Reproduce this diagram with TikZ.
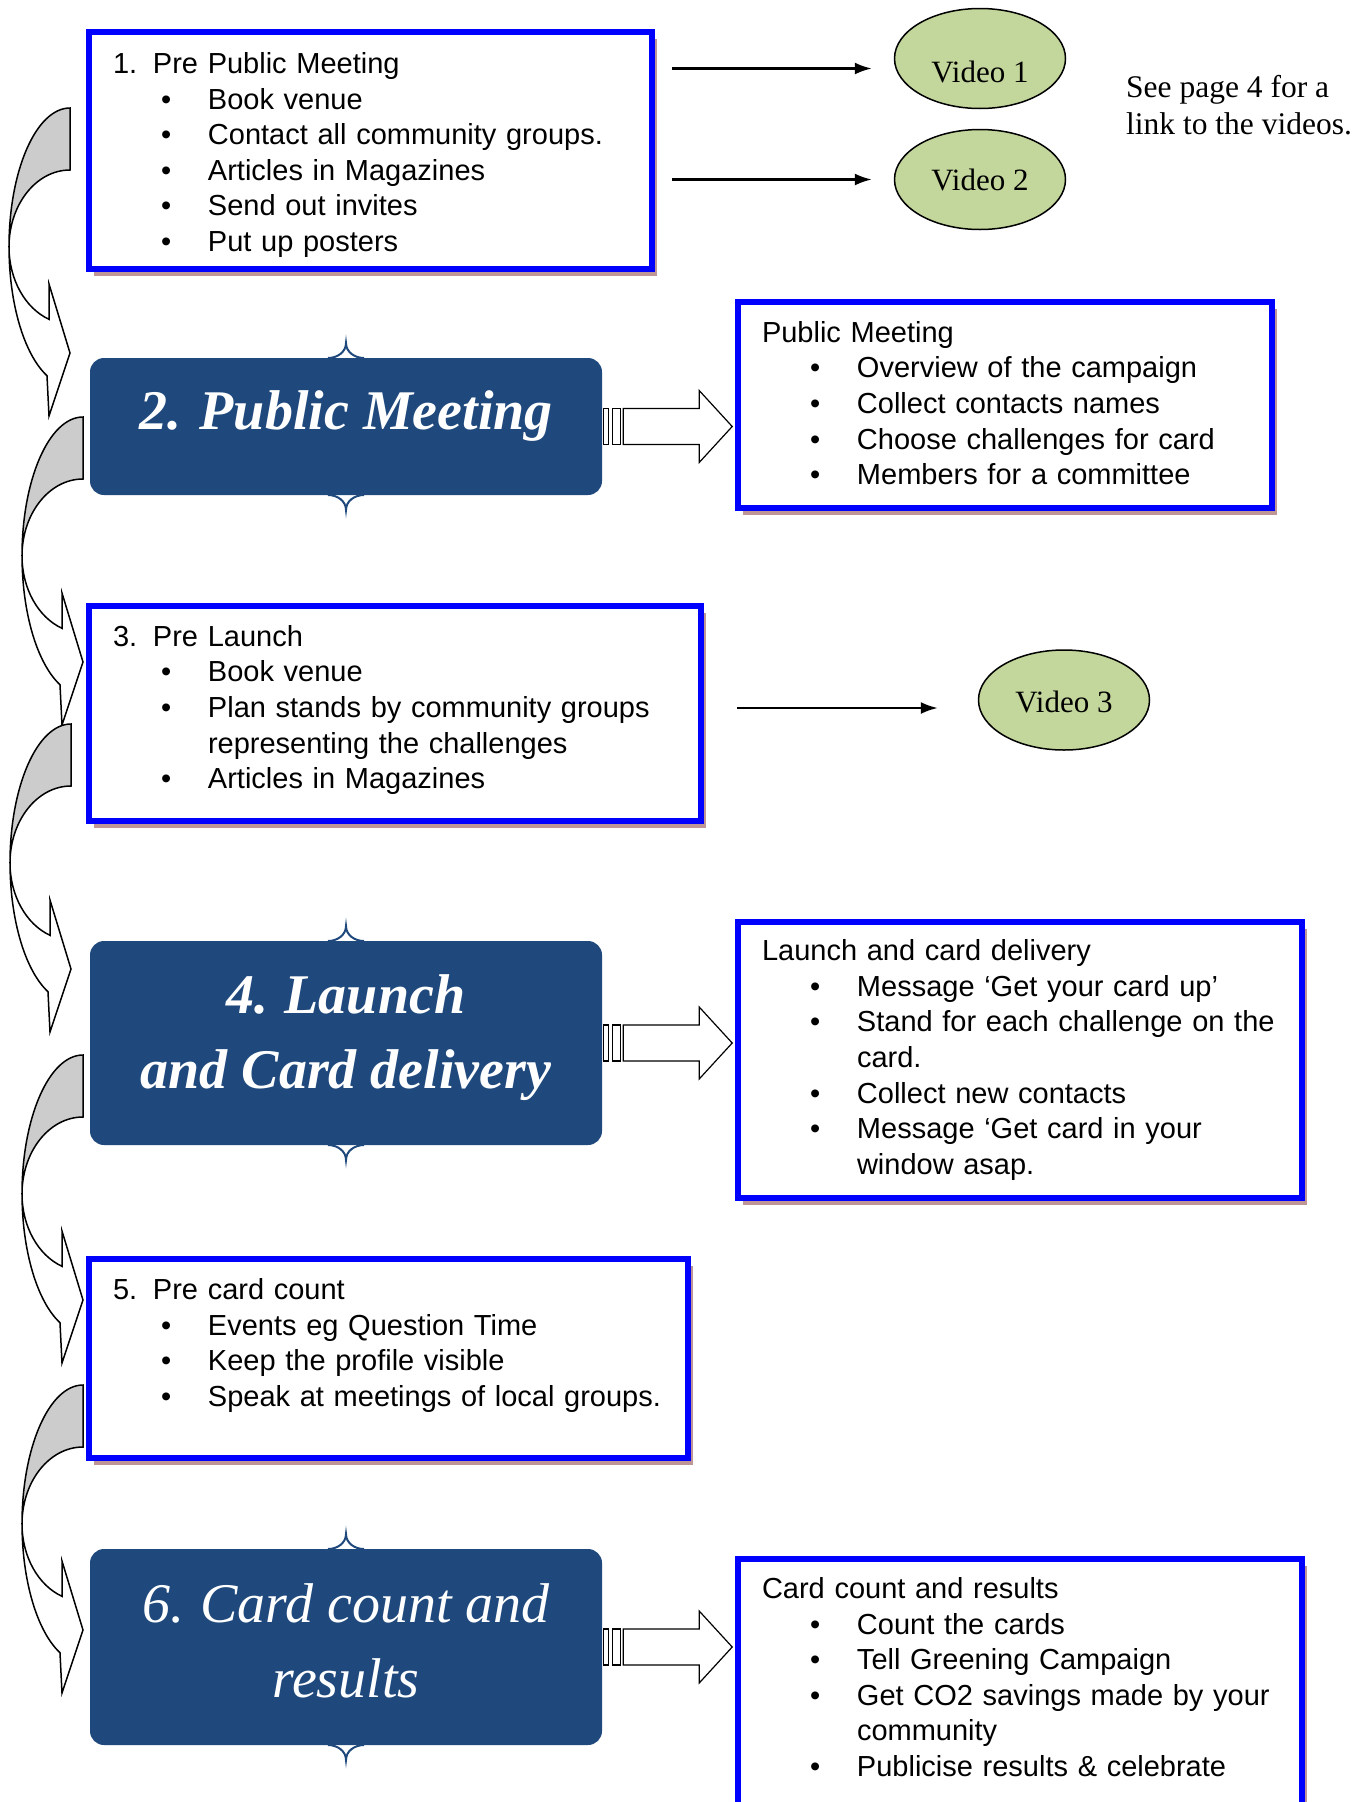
\documentclass[tikz,border=0pt]{standalone}
\usepackage{fontspec}
\setmainfont{Liberation Sans}
\newfontfamily\serifvid{Liberation Serif}
\usepackage{tikz}
\usetikzlibrary{shapes,arrows,arrows.meta,positioning,calc,shadows}
\definecolor{boxblue}{RGB}{0,0,255}
\definecolor{titleblue}{RGB}{31,73,125}
\definecolor{videogreen}{RGB}{195,214,155}
\definecolor{shadowpink}{RGB}{190,150,150}
\definecolor{backgray}{RGB}{204,204,204}
\newcommand{\stagenum}[2]{\makebox[40pt][l]{#1}#2}
\newcommand{\itm}[1]{\mbox{\hspace*{48pt}\makebox[47pt][l]{\textbullet}#1}}
\newcommand{\contline}[1]{\mbox{\hspace*{95pt}#1}}
\newcommand{\lift}[1]{\rule[-#1]{0pt}{#1}}
\newcommand{\sink}[1]{\rule{0pt}{#1}}
\tikzset{
stagebox/.style = {draw=boxblue, line width=6pt, fill=white, rectangle, align=left, inner xsep=24pt, inner ysep=0pt, font=\fontsize{29}{35.6}\selectfont, drop shadow={shadow xshift=5pt, shadow yshift=-7pt, fill=shadowpink, opacity=1}},
titlebox/.style = {fill=titleblue, rectangle, rounded corners=14pt, align=center, text=white, minimum width=512pt, font=\serifvid\bfseries\itshape\fontsize{56}{75}\selectfont},
video/.style = {draw, line width=1.5pt, fill=videogreen, ellipse, minimum width=171pt, minimum height=100pt, inner sep=0pt, font=\serifvid\fontsize{31}{37}\selectfont},
note/.style = {anchor=west, align=left, inner sep=0pt, font=\serifvid\fontsize{31.5}{37}\selectfont},
link/.style = {->, line width=2.2pt},
bracetip/.pic = {\draw [titleblue, line width=2pt, fill=white] (-18,0) to[out=0,in=-90] (0,15) to[out=-90,in=180] (18,0);},
stripearrow/.pic = {
  \draw [line width=1.2pt, fill=white] (1,-18) rectangle (6,18);
  \draw [line width=1.2pt, fill=white] (10,-18) rectangle (18,18);
  \draw [line width=1.2pt, fill=white] (21,-18) -- (97,-18) -- (97,-36) -- (130,0) -- (97,36) -- (97,18) -- (21,18) -- cycle;},
curvarrow/.pic = {
  \draw [line width=1.5pt, fill=backgray] (0,0) arc[start angle=90, end angle=180, x radius=61, y radius=139]
     arc[start angle=180, end angle=90, x radius=61, y radius=77] -- cycle;
  \draw [line width=1.5pt, fill=white] (-61,-139) arc[start angle=180, end angle=249.9, x radius=61, y radius=77]
     -- (-21,-176) -- (0,-245) -- (-21,-308) -- (-23,-267.7)
     arc[start angle=247.8, end angle=180, x radius=61, y radius=139] -- cycle;}
}

\begin{document}
\begin{tikzpicture}[auto, x=1pt, y=1pt, node distance=121pt, >={Latex[length=17pt,width=12pt]}]
    \useasboundingbox (0,0) rectangle (1371,-1802);
    \clip (0,0) rectangle (1371,-1802);

    % curved arrows down the left side
    \pic at (70,-108) {curvarrow};
    \pic at (83,-417) {curvarrow};
    \pic at (71,-724) {curvarrow};
    \pic at (83,-1055) {curvarrow};
    \pic at (83,-1385) {curvarrow};

    % brace tips behind the title boxes
    \foreach \t/\y/\h in {meet2/-426.5/137, launch4/-1043/204, count6/-1647/196}{
      \pic at (346,\y+\h/2) {bracetip};
      \pic [rotate=180] at (346,\y-\h/2) {bracetip};
    }

    \node [stagebox, name=pre1, text width=515pt, minimum height=237pt] at (370.5,-150.5)
       {\sink{30pt}\stagenum{1.}{Pre Public Meeting}\\ \itm{Book venue}\\ \itm{Contact all community groups.}\\ \itm{Articles in Magazines}\\ \itm{Send out invites}\\ \itm{Put up posters}};
    \node [video, name=vid1] at (980,-58.5) {\sink{48pt}Video 1};
    \node [video, name=vid2, below of = vid1] {Video 2};
    \node [note, name=note] at (1126,-105.5) {See page 4 for a\\link to the videos.};

    \node [titlebox, name=meet2, minimum height=137pt] at (346,-426.5) {2. Public Meeting\lift{32pt}};
    \node [stagebox, name=meetinfo, text width=486pt, minimum height=206pt] at (1005,-405)
       {Public Meeting\\ \itm{Overview of the campaign}\\ \itm{Collect contacts names}\\ \itm{Choose challenges for card}\\ \itm{Members for a committee}\lift{4pt}};

    \node [stagebox, name=pre3, text width=564pt, minimum height=215pt] at (395,-713.5)
       {\stagenum{3.}{Pre Launch}\\ \itm{Book venue}\\ \itm{Plan stands by community groups}\\ \contline{representing the challenges}\\ \itm{Articles in Magazines}\lift{13pt}};
    \node [video, name=vid3] at (1064,-700) {\sink{25pt}Video 3};

    \node [titlebox, name=launch4, minimum height=204pt] at (346,-1043) {4.\hspace{16pt}Launch\\and Card delivery\lift{22pt}};
    \node [stagebox, name=launchinfo, text width=516pt, minimum height=276pt] at (1020,-1060)
       {Launch and card delivery\\ \itm{Message ‘Get your card up’}\\ \itm{Stand for each challenge on the}\\ \contline{card.}\\ \itm{Collect new contacts}\\ \itm{Message ‘Get card in your}\\ \contline{window asap.}};

    \node [stagebox, name=pre5, text width=551pt, minimum height=199pt] at (388.5,-1358.5)
       {\stagenum{5.}{Pre card count}\\ \itm{Events eg Question Time}\\ \itm{Keep the profile visible}\\ \itm{Speak at meetings of local groups.}\lift{32pt}};

    \node [titlebox, name=count6, minimum height=196pt, font=\serifvid\itshape\fontsize{56}{75}\selectfont] at (346,-1647) {6.\hspace{16pt}Card count and\\results\lift{13pt}};
    \node [stagebox, name=countinfo, text width=516pt, minimum height=253pt] at (1020,-1685.5)
       {Card count and results\\ \itm{Count the cards}\\ \itm{Tell Greening Campaign}\\ \itm{Get CO2 savings made by your}\\ \contline{community}\\ \itm{Publicise results \& celebrate}\lift{17pt}};

    % striped block arrows
    \pic at (meet2.east) {stripearrow};
    \pic at (launch4.east) {stripearrow};
    \pic at (count6.east) {stripearrow};

    \draw [link, shorten <=17pt, shorten >=22pt] ($(pre1.east |- vid1.west)+(0,-10)$) -- ($(vid1.west)+(0,-10)$);
    \draw [link, shorten <=17pt, shorten >=22pt] (pre1.east |- vid2.west) -- (vid2.west);
    \draw [link, shorten <=33pt, shorten >=40pt] ($(pre3.east |- vid3.west)+(0,-8)$) -- ($(vid3.west)+(0,-8)$);
\end{tikzpicture}
\end{document}
